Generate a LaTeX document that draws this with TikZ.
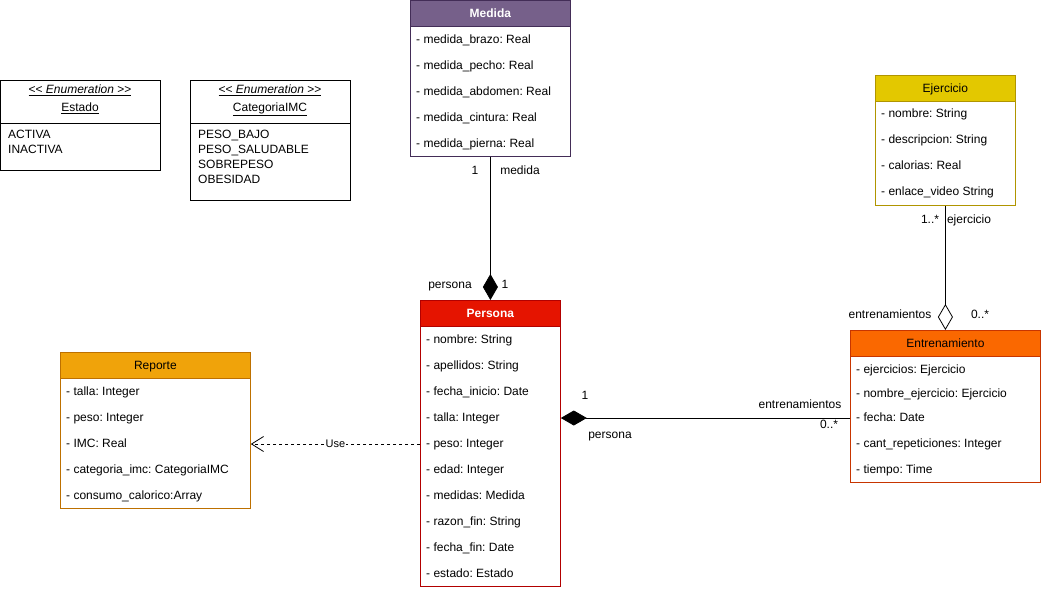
\documentclass[tikz,border=0pt]{standalone}
\usepackage{fontspec}
\setmainfont{Liberation Sans}
\usetikzlibrary{arrows.meta}
\definecolor{medF}{HTML}{76608A}\definecolor{medB}{HTML}{432D57}
\definecolor{perF}{HTML}{E51400}\definecolor{perB}{HTML}{B20000}
\definecolor{ejeF}{HTML}{E3C800}\definecolor{ejeB}{HTML}{B09500}
\definecolor{repF}{HTML}{F0A30A}\definecolor{repB}{HTML}{BD7000}
\definecolor{entF}{HTML}{FA6800}\definecolor{entB}{HTML}{C73500}
\newcommand{\enumst}{\underline{{<}{<} \textit{Enumeration} {>}{>}}}
\tikzset{
  txt/.style={font=\fontsize{12}{14}\selectfont\frenchspacing, inner sep=0pt, text height=10pt, text depth=2.5pt},
  body/.style={draw, line width=0.8pt, anchor=north west, inner sep=0pt, fill=white},
  hdr/.style={draw, line width=0.8pt, anchor=north west, inner sep=0pt, minimum height=26pt, txt},
  row/.style={txt, anchor=west},
  lbl/.style={txt},
  assoc/.style={line width=0.8pt},
}
\begin{document}
\begin{tikzpicture}[x=1pt,y=-1pt]
\useasboundingbox (0,0) rectangle (1041,590);
% Enumerations
\node[body, minimum width=160pt, minimum height=90pt] (estado) at (0,80) {};
\draw[line width=0.8pt] (0,123) -- (160,123);
\node[lbl] (estadoS) at (80,90) {\enumst};
\node[lbl] (estadoN) at (80,108) {\underline{Estado}};
\node[row] (e1) at (8,135) {ACTIVA};
\node[row] (e2) at (8,150) {INACTIVA};

\node[body, minimum width=160pt, minimum height=120pt] (catimc) at (190,80) {};
\draw[line width=0.8pt] (190,123) -- (350,123);
\node[lbl] (catS) at (270,90) {\enumst};
\node[lbl] (catN) at (270,108) {\underline{CategoriaIMC}};
\node[row] (c1) at (198,135) {PESO\_BAJO};
\node[row] (c2) at (198,150) {PESO\_SALUDABLE};
\node[row] (c3) at (198,165) {SOBREPESO};
\node[row] (c4) at (198,180) {OBESIDAD};

% Medida
\node[body, draw=medB, minimum width=160pt, minimum height=156pt] (medida) at (410,0) {};
\node[hdr, fill=medF, draw=medB, minimum width=160pt, text=white, font=\fontsize{12}{14}\selectfont\bfseries] (medidaH) at (410,0) {Medida};
\node[row] (m1) at (416,40) {- medida\_brazo: Real};
\node[row] (m2) at (416,66) {- medida\_pecho: Real};
\node[row] (m3) at (416,92) {- medida\_abdomen: Real};
\node[row] (m4) at (416,118) {- medida\_cintura: Real};
\node[row] (m5) at (416,144) {- medida\_pierna: Real};

% Ejercicio
\node[body, draw=ejeB, minimum width=140pt, minimum height=130pt] (ejercicio) at (875,75) {};
\node[hdr, fill=ejeF, draw=ejeB, minimum width=140pt] (ejercicioH) at (875,75) {Ejercicio};
\node[row] (j1) at (881,114) {- nombre: String};
\node[row] (j2) at (881,140) {- descripcion: String};
\node[row] (j3) at (881,166) {- calorias: Real};
\node[row] (j4) at (881,192) {- enlace\_video String};

% Persona
\node[body, draw=perB, minimum width=140pt, minimum height=286pt] (persona) at (420,300) {};
\node[hdr, fill=perF, draw=perB, minimum width=140pt, text=white, font=\fontsize{12}{14}\selectfont\bfseries] (personaH) at (420,300) {Persona};
\node[row] (p1) at (426,340) {- nombre: String};
\node[row] (p2) at (426,366) {- apellidos: String};
\node[row] (p3) at (426,392) {- fecha\_inicio: Date};
\node[row] (p4) at (426,418) {- talla: Integer};
\node[row] (p5) at (426,444) {- peso: Integer};
\node[row] (p6) at (426,470) {- edad: Integer};
\node[row] (p7) at (426,496) {- medidas: Medida};
\node[row] (p8) at (426,522) {- razon\_fin: String};
\node[row] (p9) at (426,548) {- fecha\_fin: Date};
\node[row] (p10) at (426,574) {- estado: Estado};

% Reporte
\node[body, draw=repB, minimum width=190pt, minimum height=156pt] (reporte) at (60,352) {};
\node[hdr, fill=repF, draw=repB, minimum width=190pt] (reporteH) at (60,352) {Reporte};
\node[row] (r1) at (66,392) {- talla: Integer};
\node[row] (r2) at (66,418) {- peso: Integer};
\node[row] (r3) at (66,444) {- IMC: Real};
\node[row] (r4) at (66,470) {- categoria\_imc: CategoriaIMC};
\node[row] (r5) at (66,496) {- consumo\_calorico:Array};

% Entrenamiento
\node[body, draw=entB, minimum width=190pt, minimum height=152pt] (entren) at (850,330) {};
\node[hdr, fill=entF, draw=entB, minimum width=190pt] (entrenH) at (850,330) {Entrenamiento};
\node[row] (t1) at (856,370) {- ejercicios: Ejercicio};
\node[row] (t2) at (856,394) {- nombre\_ejercicio: Ejercicio};
\node[row] (t3) at (856,418) {- fecha: Date};
\node[row] (t4) at (856,444) {- cant\_repeticiones: Integer};
\node[row] (t5) at (856,470) {- tiempo: Time};

% Connectors
\draw[assoc, -{Diamond[length=26pt,width=15pt,fill=black]}] (medida.south) -- (personaH.north);
\node[lbl] (l1) at (475,171) {1};
\node[lbl] (l2) at (520,171) {medida};
\node[lbl] (l3) at (450,285) {persona};
\node[lbl] (l4) at (505,285) {1};

\draw[assoc, -{Diamond[length=26pt,width=15pt,fill=black]}] (entren.west |- t3) -- (persona.east |- p4);
\node[lbl] (l5) at (585,396) {1};
\node[lbl] (l6) at (610,435) {persona};
\node[lbl] (l7) at (800,405) {entrenamientos};
\node[lbl] (l8) at (829,425) {0..*};

\draw[assoc, -{Diamond[length=26pt,width=15pt,fill=white]}] (ejercicio.south) -- (entrenH.north);
\node[lbl] (l9) at (930,220) {1..*};
\node[lbl] (l10) at (969,220) {ejercicio};
\node[lbl] (l11) at (890,315) {entrenamientos};
\node[lbl] (l12) at (980,315) {0..*};

\draw[line width=0.7pt, dashed, -{Straight Barb[length=12pt,width=15pt,line width=0.8pt]}] (persona.west |- p5) -- node[fill=white, inner sep=1pt, font=\fontsize{11}{13}\selectfont] (use) {Use} (reporte.east |- r3);
\end{tikzpicture}
\end{document}
